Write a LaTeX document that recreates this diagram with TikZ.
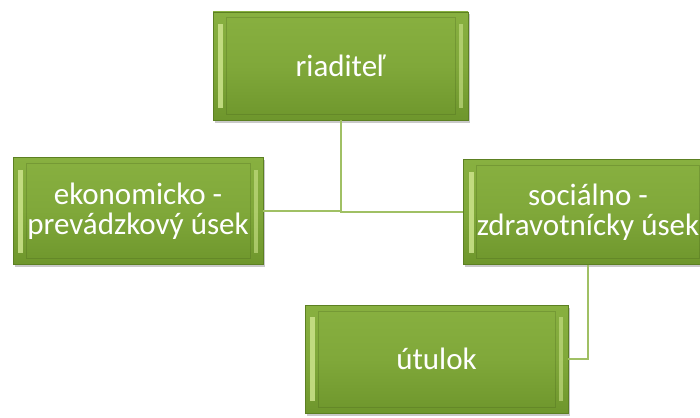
\documentclass[tikz,border=0pt]{standalone}
\usepackage{fontspec}
\setmainfont{Carlito}
\usetikzlibrary{shadows}
\definecolor{boxmid}{RGB}{128,168,58}
\definecolor{boxtop}{RGB}{136,176,64}
\definecolor{boxbot}{RGB}{110,150,44}
\definecolor{boxedge}{RGB}{92,128,34}
\definecolor{boxhi}{RGB}{205,228,140}
\definecolor{linkcol}{RGB}{160,192,100}
\tikzset{
  orgbox/.style={rectangle, draw=boxedge, line width=0.8pt,
    top color=boxtop, bottom color=boxbot, middle color=boxmid,
    text=white, font=\fontsize{31}{30}\selectfont, align=center,
    inner sep=0pt,
    drop shadow={shadow xshift=1.5pt, shadow yshift=-2.5pt, opacity=0.35, fill=black!60},
    path picture={
      \fill[boxhi, opacity=0.85]
        ([xshift=5pt,yshift=-12pt]path picture bounding box.north west) rectangle
        ([xshift=10pt,yshift=12pt]path picture bounding box.south west);
      \fill[boxhi, opacity=0.6]
        ([xshift=-9pt,yshift=-12pt]path picture bounding box.north east) rectangle
        ([xshift=-5pt,yshift=12pt]path picture bounding box.south east);
      \draw[boxedge!70!black, opacity=0.25, line width=1pt]
        ([xshift=13pt,yshift=-6pt]path picture bounding box.north west) rectangle
        ([xshift=-13pt,yshift=6pt]path picture bounding box.south east);
    }},
  link/.style={draw=linkcol, line width=2pt}
}
\begin{document}
\begin{tikzpicture}[x=1pt,y=-1pt]
\fill[white] (0,0) rectangle (700,417);
\useasboundingbox (0,0) rectangle (700,417);
\clip (0,0) rectangle (700,417);
\node[orgbox, minimum width=255pt, minimum height=108pt] (riad) at (340.5,66) {riaditeľ};
\node[orgbox, minimum width=250pt, minimum height=107pt] (ekon) at (138,211) {ekonomicko -\\prevádzkový úsek};
\node[orgbox, minimum width=249pt, minimum height=105pt] (soc) at (588,212) {sociálno -\\zdravotnícky úsek};
\node[orgbox, minimum width=263pt, minimum height=108pt] (utul) at (436.5,359) {útulok};
\draw[link] (riad.south) |- (ekon.east);
\draw[link] (riad.south) |- (soc.west);
\draw[link] (soc.south) |- (utul.east);
\end{tikzpicture}
\end{document}
